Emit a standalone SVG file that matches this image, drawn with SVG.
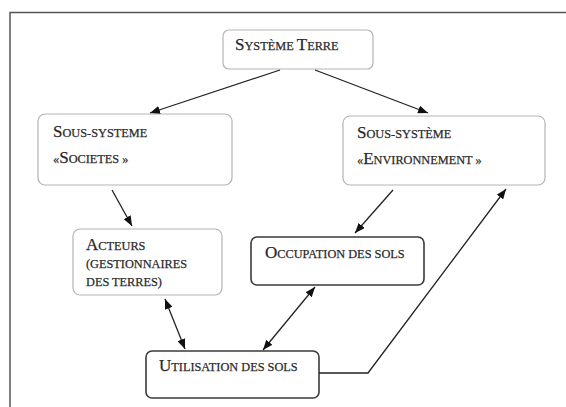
<svg xmlns="http://www.w3.org/2000/svg" width="566" height="407" viewBox="0 0 566 407">
<style>
  .bg{fill:#ffffff}
  .frame{fill:none;stroke:#555;stroke-width:1.5}
  .light{fill:#ffffff;stroke:#b4b4b4;stroke-width:1.2}
  .dark{fill:#ffffff;stroke:#3a3a3a;stroke-width:1.6}
  text{font-family:"Liberation Serif","Times New Roman",serif;font-size:12.3px;fill:#262626;stroke:#333;stroke-width:0.25}
  .c{font-size:17px}
  .edge{fill:none;stroke:#222;stroke-width:1.3}
</style>
<defs>
  <marker id="ah" viewBox="0 0 10 8" refX="10" refY="4" markerWidth="10" markerHeight="8" markerUnits="userSpaceOnUse" orient="auto-start-reverse">
    <path d="M0,0 L10,4 L0,8 z" fill="#111"/>
  </marker>
</defs>
<rect class="bg" x="0" y="0" width="566" height="407"/>
<path class="frame" d="M10,407 L10,12.5 L566,12.5"/>

<g id="terre">
  <rect class="light" x="223" y="30" width="150" height="39" rx="6"/>
  <text x="235" y="50"><tspan class="c">S</tspan>YSTÈME <tspan class="c">T</tspan>ERRE</text>
</g>
<g id="societes">
  <rect class="light" x="38" y="114" width="194" height="71" rx="7"/>
  <text x="53" y="137"><tspan class="c">S</tspan>OUS-SYSTEME</text>
  <text x="53" y="163">«<tspan class="c">S</tspan>OCIETES »</text>
</g>
<g id="environnement">
  <rect class="light" x="343" y="116" width="202" height="69" rx="7"/>
  <text x="357" y="138"><tspan class="c">S</tspan>OUS-SYSTÈME</text>
  <text x="357" y="164">«<tspan class="c">E</tspan>NVIRONNEMENT »</text>
</g>
<g id="acteurs">
  <rect class="light" x="73" y="229" width="149" height="66" rx="7"/>
  <text x="86" y="250"><tspan class="c">A</tspan>CTEURS</text>
  <text x="86" y="268">(GESTIONNAIRES</text>
  <text x="86" y="286">DES TERRES)</text>
</g>
<g id="occupation">
  <rect class="dark" x="251" y="237" width="173" height="48" rx="6"/>
  <text x="265" y="258"><tspan class="c">O</tspan>CCUPATION DES SOLS</text>
</g>
<g id="utilisation">
  <rect class="dark" x="146" y="351" width="173" height="47" rx="6"/>
  <text x="159" y="371"><tspan class="c">U</tspan>TILISATION DES SOLS</text>
</g>

<g id="connectors">
  <line class="edge" x1="280" y1="70" x2="150" y2="113" marker-end="url(#ah)"/>
  <line class="edge" x1="315" y1="70" x2="428" y2="113" marker-end="url(#ah)"/>
  <line class="edge" x1="112" y1="190" x2="132" y2="226" marker-end="url(#ah)"/>
  <line class="edge" x1="393" y1="190" x2="355" y2="233" marker-end="url(#ah)"/>
  <line class="edge" x1="165" y1="299" x2="185" y2="349" marker-start="url(#ah)" marker-end="url(#ah)"/>
  <line class="edge" x1="315" y1="287" x2="263" y2="350" marker-start="url(#ah)" marker-end="url(#ah)"/>
  <polyline class="edge" points="319,373 368,373 506,189" marker-end="url(#ah)"/>
</g>
</svg>
